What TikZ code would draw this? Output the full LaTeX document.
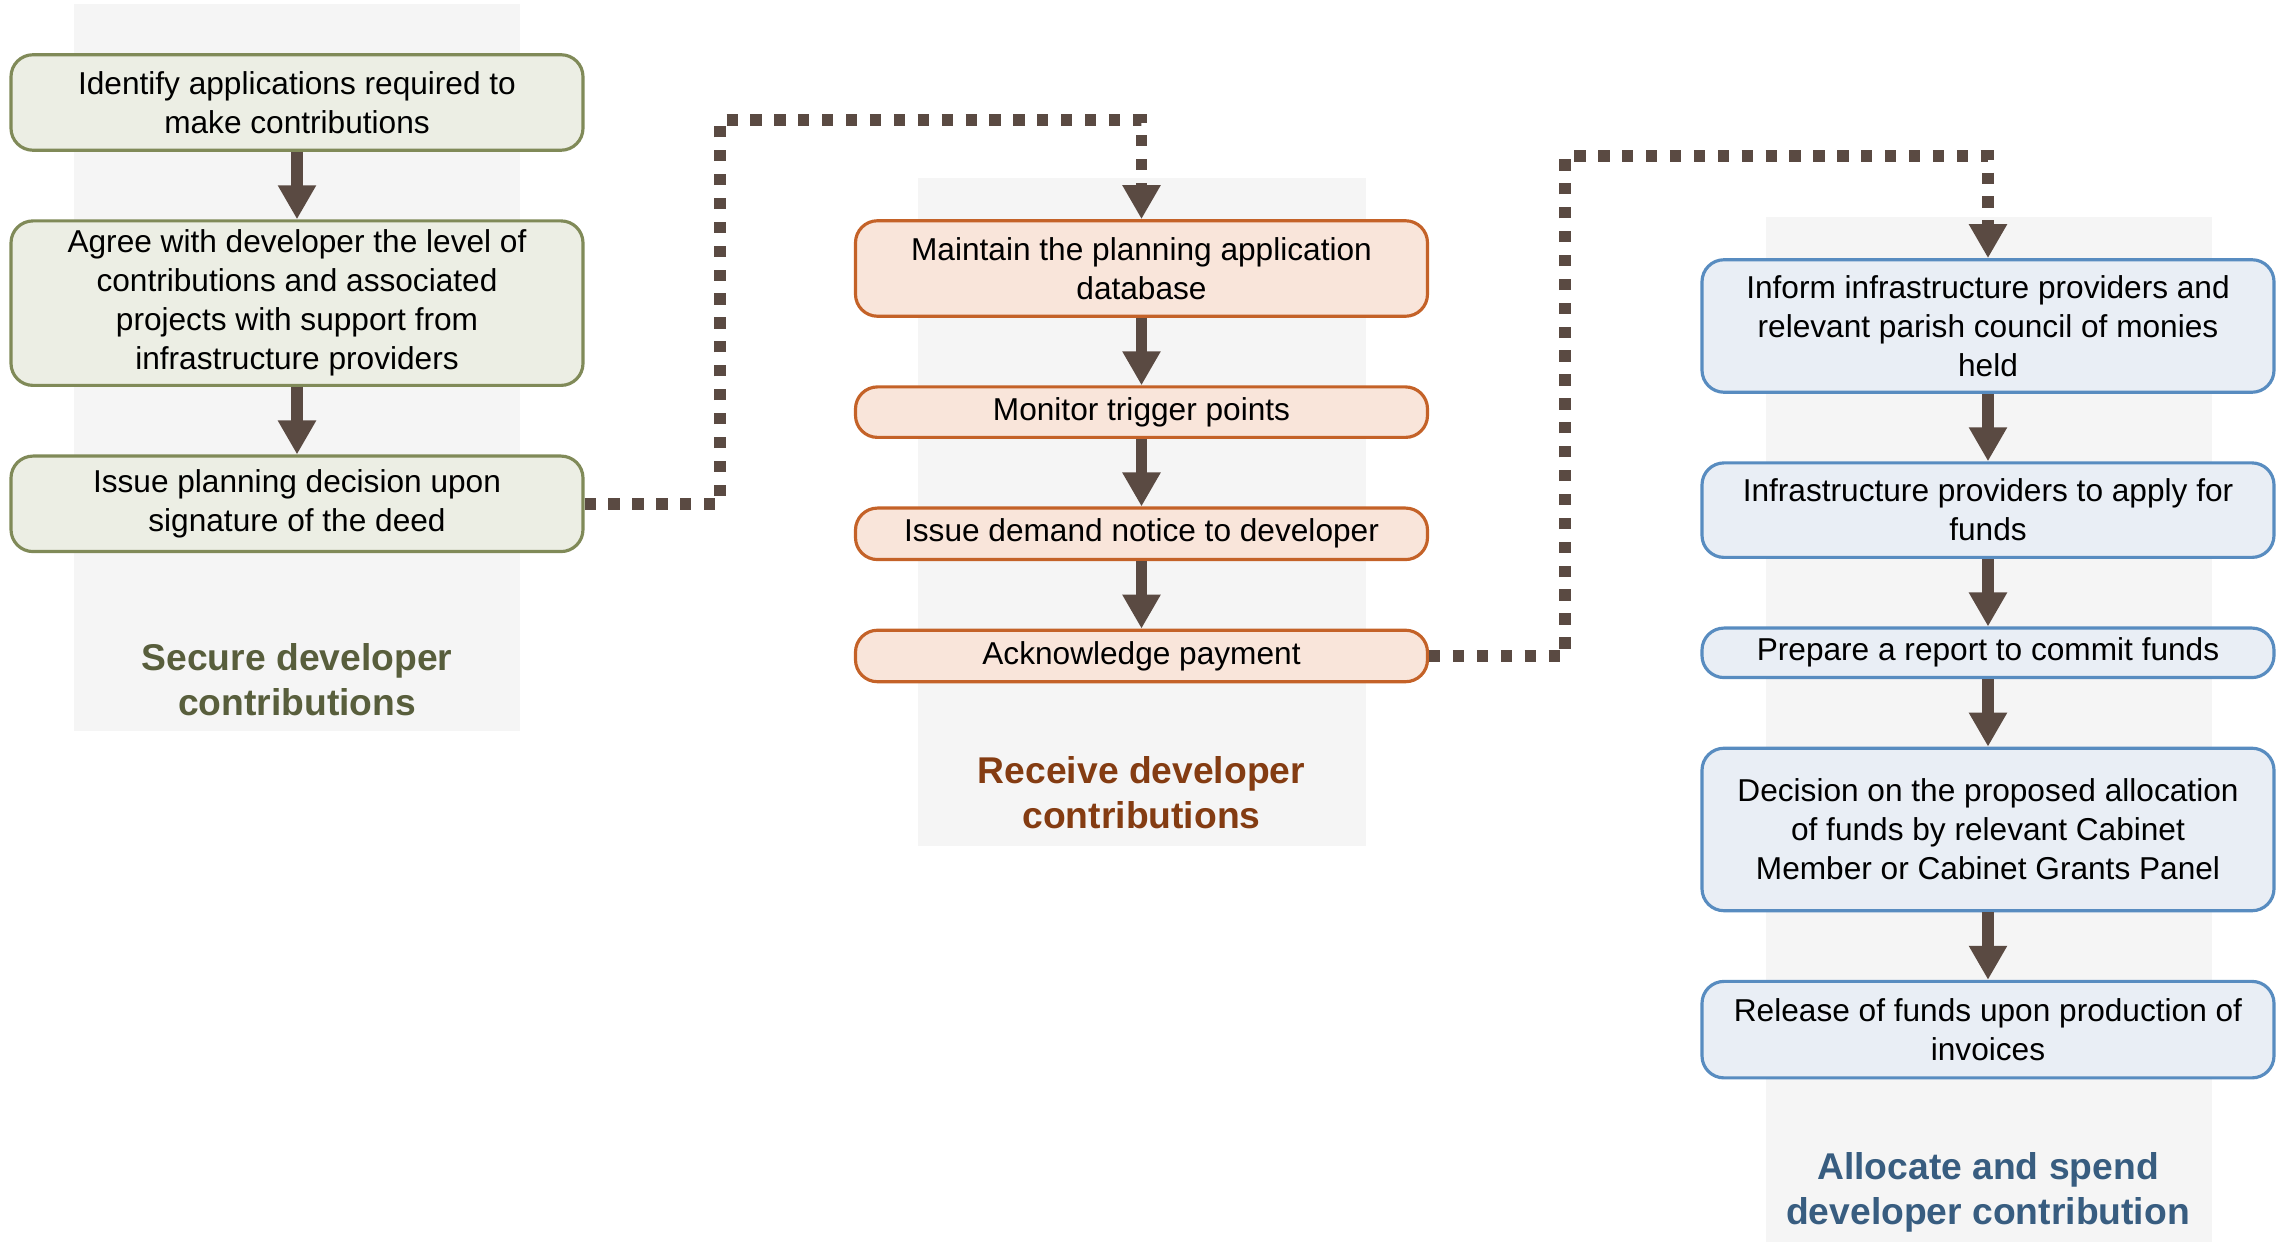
\documentclass[tikz,border=0pt]{standalone}
\usepackage{fontspec}
\setmainfont{Liberation Sans}
\usetikzlibrary{calc,positioning}
\usetikzlibrary{arrows.meta}
\definecolor{arrowbrown}{RGB}{90,74,66}
\definecolor{panelgray}{RGB}{245,245,245}
\definecolor{securefill}{RGB}{236,238,228}
\definecolor{secureline}{RGB}{128,138,88}
\definecolor{securetext}{RGB}{88,94,60}
\definecolor{receivefill}{RGB}{249,229,218}
\definecolor{receiveline}{RGB}{196,98,40}
\definecolor{receivetext}{RGB}{132,60,18}
\definecolor{allocfill}{RGB}{233,238,245}
\definecolor{allocline}{RGB}{88,140,192}
\definecolor{alloctext}{RGB}{56,93,128}
\tikzstyle{task}=[draw, rounded corners=0.22cm, line width=0.9pt, minimum width=5.72cm, inner ysep=2pt, align=center, font=\fontsize{9}{11.1}\selectfont]
\tikzstyle{secure}=[task, fill=securefill, draw=secureline]
\tikzstyle{receive}=[task, fill=receivefill, draw=receiveline]
\tikzstyle{alloc}=[task, fill=allocfill, draw=allocline]
\tikzstyle{heading}=[align=center, font=\bfseries\fontsize{10.6}{12.8}\selectfont]
\tikzstyle{flow}=[-{Triangle[width=0.36cm,length=0.34cm]}, line width=3.3pt, draw=arrowbrown]
\tikzstyle{link}=[flow, dash pattern=on 3.2pt off 3.6pt]

\begin{document}
\begin{tikzpicture}[node distance=0.675cm]
\useasboundingbox (0,0) rectangle (22.82,-12.42);
\fill[panelgray] (0.74,-0.04) rectangle (5.20,-7.31);
\fill[panelgray] (9.18,-1.78) rectangle (13.66,-8.46);
\fill[panelgray] (17.66,-2.17) rectangle (22.12,-12.42);

\node (identify) [secure, minimum height=0.955cm] at (2.97,-1.025) {Identify applications required to\\make contributions};
\node (agree) [secure, minimum height=1.645cm, below=of identify] {Agree with developer the level of\\contributions and associated\\projects with support from\\infrastructure providers};
\node (issueplan) [secure, minimum height=0.955cm, below=of agree] {Issue planning decision upon\\signature of the deed};
\node (securehead) [heading, text=securetext] at (2.97,-6.80) {Secure developer\\contributions};

\node (maintain) [receive, minimum height=0.955cm] at (11.415,-2.685) {Maintain the planning application\\database};
\node (monitor) [receive, minimum height=0.505cm, below=of maintain] {Monitor trigger points};
\node (demand) [receive, minimum height=0.515cm, below=of monitor] {Issue demand notice to developer};
\node (acknowledge) [receive, minimum height=0.515cm, below=of demand] {Acknowledge payment};
\node (receivehead) [heading, text=receivetext] at (11.415,-7.93) {Receive developer\\contributions};

\node (inform) [alloc, minimum height=1.325cm] at (19.88,-3.26) {Inform infrastructure providers and\\relevant parish council of monies\\held};
\node (apply) [alloc, minimum height=0.945cm, below=of inform] {Infrastructure providers to apply for\\funds};
\node (report) [alloc, minimum height=0.495cm, below=of apply] {Prepare a report to commit funds};
\node (decision) [alloc, minimum height=1.625cm, below=of report] {Decision on the proposed allocation\\of funds by relevant Cabinet\\Member or Cabinet Grants Panel};
\node (release) [alloc, minimum height=0.965cm, below=of decision] {Release of funds upon production of\\invoices};
\node (allochead) [heading, text=alloctext] at (19.88,-11.92) {Allocate and spend\\developer contribution};

\draw[flow] (identify) -- (agree);
\draw[flow] (agree) -- (issueplan);
\draw[flow] (maintain) -- (monitor);
\draw[flow] (monitor) -- (demand);
\draw[flow] (demand) -- (acknowledge);
\draw[flow] (inform) -- (apply);
\draw[flow] (apply) -- (report);
\draw[flow] (report) -- (decision);
\draw[flow] (decision) -- (release);

\coordinate (bendone) at (7.20,-1.20);
\coordinate (bendtwo) at (15.65,-1.56);
\draw[link] (issueplan.east) -| (bendone) -| (maintain.north);
\draw[link] (acknowledge.east) -| (bendtwo) -| (inform.north);
\end{tikzpicture}
\end{document}
